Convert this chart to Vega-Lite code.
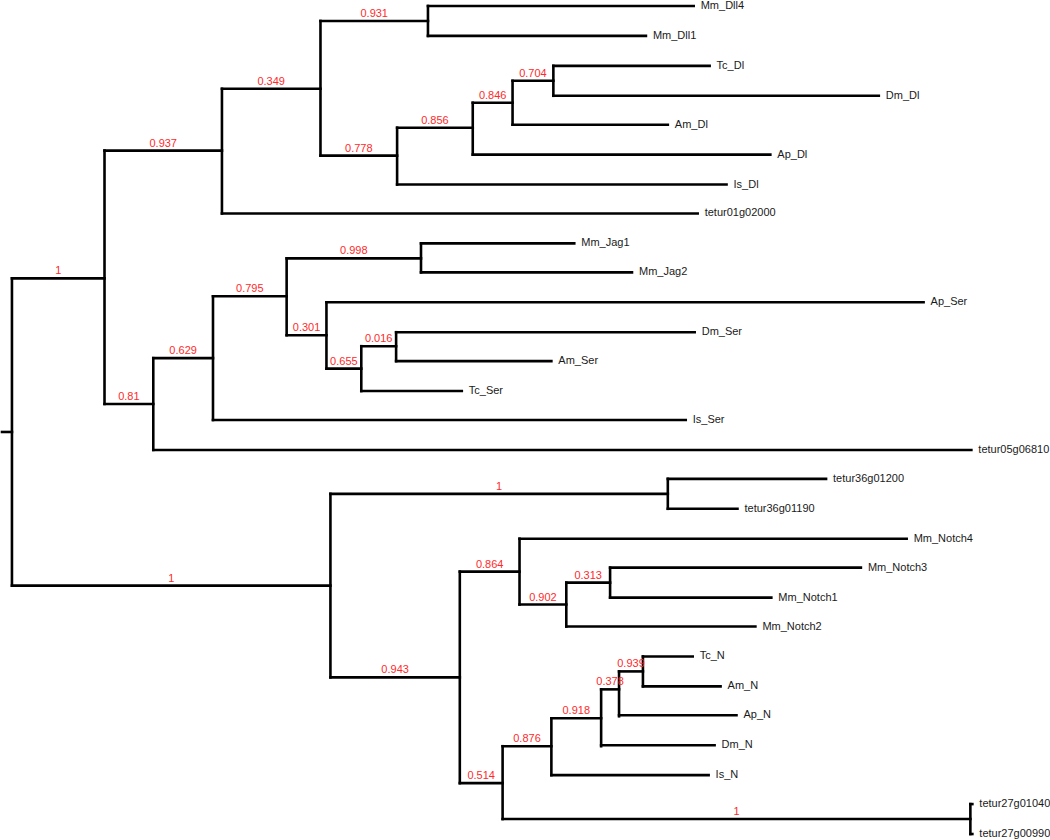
{
  "$schema": "https://vega.github.io/schema/vega-lite/v6.json",
  "width": 1050,
  "height": 840,
  "autosize": {"type": "fit", "contains": "padding"},
  "padding": 0,
  "background": "white",
  "config": {"view": {"stroke": null}, "axis": {"disable": true}},
  "data": {"values": [
    {"name": "root", "px": 0, "x": 10, "y": 431, "y1": 277, "y2": 585, "support": null, "leaf": false},
    {"name": "A", "px": 10, "x": 103, "y": 277, "y1": 149, "y2": 403, "support": "1", "leaf": false},
    {"name": "B", "px": 103, "x": 221, "y": 149, "y1": 87, "y2": 212, "support": "0.937", "leaf": false},
    {"name": "C", "px": 221, "x": 320, "y": 87, "y1": 19, "y2": 154, "support": "0.349", "leaf": false},
    {"name": "D", "px": 320, "x": 428, "y": 19, "y1": 4, "y2": 34, "support": "0.931", "leaf": false},
    {"name": "E", "px": 320, "x": 397, "y": 154, "y1": 126, "y2": 183, "support": "0.778", "leaf": false},
    {"name": "F", "px": 397, "x": 473, "y": 126, "y1": 101, "y2": 153, "support": "0.856", "leaf": false},
    {"name": "G", "px": 473, "x": 513, "y": 101, "y1": 79, "y2": 123, "support": "0.846", "leaf": false},
    {"name": "H", "px": 513, "x": 554, "y": 79, "y1": 64, "y2": 94, "support": "0.704", "leaf": false},
    {"name": "I", "px": 103, "x": 152, "y": 403, "y1": 357, "y2": 449, "support": "0.81", "leaf": false},
    {"name": "J", "px": 152, "x": 212, "y": 357, "y1": 295, "y2": 419, "support": "0.629", "leaf": false},
    {"name": "K", "px": 212, "x": 286, "y": 295, "y1": 257, "y2": 334, "support": "0.795", "leaf": false},
    {"name": "L", "px": 286, "x": 421, "y": 257, "y1": 242, "y2": 271, "support": "0.998", "leaf": false},
    {"name": "M", "px": 286, "x": 326, "y": 334, "y1": 301, "y2": 367.5, "support": "0.301", "leaf": false},
    {"name": "N", "px": 326, "x": 361, "y": 367.5, "y1": 345, "y2": 390, "support": "0.655", "leaf": false},
    {"name": "O", "px": 361, "x": 396, "y": 345, "y1": 331, "y2": 360, "support": "0.016", "leaf": false},
    {"name": "P", "px": 10, "x": 330, "y": 585, "y1": 493, "y2": 677, "support": "1", "leaf": false},
    {"name": "Q", "px": 330, "x": 669, "y": 493, "y1": 478, "y2": 508, "support": "1", "leaf": false},
    {"name": "R", "px": 330, "x": 460, "y": 677, "y1": 571, "y2": 783, "support": "0.943", "leaf": false},
    {"name": "S", "px": 460, "x": 520, "y": 571, "y1": 538, "y2": 604, "support": "0.864", "leaf": false},
    {"name": "U", "px": 520, "x": 567, "y": 604, "y1": 582, "y2": 626, "support": "0.902", "leaf": false},
    {"name": "V", "px": 567, "x": 611, "y": 582, "y1": 567, "y2": 597, "support": "0.313", "leaf": false},
    {"name": "T", "px": 460, "x": 503, "y": 783, "y1": 746, "y2": 819, "support": "0.514", "leaf": false},
    {"name": "W", "px": 503, "x": 552, "y": 746, "y1": 718, "y2": 775, "support": "0.876", "leaf": false},
    {"name": "Y", "px": 552, "x": 602, "y": 718, "y1": 689, "y2": 746, "support": "0.918", "leaf": false},
    {"name": "Z", "px": 602, "x": 620, "y": 689, "y1": 671, "y2": 716, "support": "0.378", "leaf": false},
    {"name": "AA", "px": 620, "x": 644, "y": 671, "y1": 656, "y2": 686, "support": "0.939", "leaf": false},
    {"name": "X", "px": 503, "x": 973, "y": 819, "y1": 804, "y2": 834, "support": "1", "leaf": false},
    {"name": "Mm_Dll4", "px": 428, "x": 695, "y": 4, "leaf": true},
    {"name": "Mm_Dll1", "px": 428, "x": 647, "y": 34, "leaf": true},
    {"name": "Tc_Dl", "px": 554, "x": 711, "y": 64, "leaf": true},
    {"name": "Dm_Dl", "px": 554, "x": 881, "y": 94, "leaf": true},
    {"name": "Am_Dl", "px": 513, "x": 669, "y": 123, "leaf": true},
    {"name": "Ap_Dl", "px": 473, "x": 772, "y": 153, "leaf": true},
    {"name": "Is_Dl", "px": 397, "x": 728, "y": 183, "leaf": true},
    {"name": "tetur01g02000", "px": 221, "x": 699, "y": 212, "leaf": true},
    {"name": "Mm_Jag1", "px": 421, "x": 575, "y": 242, "leaf": true},
    {"name": "Mm_Jag2", "px": 421, "x": 633, "y": 271, "leaf": true},
    {"name": "Ap_Ser", "px": 326, "x": 926, "y": 301, "leaf": true},
    {"name": "Dm_Ser", "px": 396, "x": 696, "y": 331, "leaf": true},
    {"name": "Am_Ser", "px": 396, "x": 552, "y": 360, "leaf": true},
    {"name": "Tc_Ser", "px": 361, "x": 462, "y": 390, "leaf": true},
    {"name": "Is_Ser", "px": 212, "x": 687, "y": 419, "leaf": true},
    {"name": "tetur05g06810", "px": 152, "x": 974, "y": 449, "leaf": true},
    {"name": "tetur36g01200", "px": 669, "x": 828, "y": 478, "leaf": true},
    {"name": "tetur36g01190", "px": 669, "x": 739, "y": 508, "leaf": true},
    {"name": "Mm_Notch4", "px": 520, "x": 909, "y": 538, "leaf": true},
    {"name": "Mm_Notch3", "px": 611, "x": 863, "y": 567, "leaf": true},
    {"name": "Mm_Notch1", "px": 611, "x": 773, "y": 597, "leaf": true},
    {"name": "Mm_Notch2", "px": 567, "x": 757, "y": 626, "leaf": true},
    {"name": "Tc_N", "px": 644, "x": 694, "y": 656, "leaf": true},
    {"name": "Am_N", "px": 644, "x": 722, "y": 686, "leaf": true},
    {"name": "Ap_N", "px": 620, "x": 738, "y": 715, "leaf": true},
    {"name": "Dm_N", "px": 602, "x": 716, "y": 745, "leaf": true},
    {"name": "Is_N", "px": 552, "x": 710, "y": 775, "leaf": true},
    {"name": "tetur27g01040", "px": 973, "x": 975, "y": 804, "leaf": true},
    {"name": "tetur27g00990", "px": 973, "x": 975, "y": 834, "leaf": true}
  ]},
  "layer": [
    {
      "mark": {"type": "rule", "stroke": "#000000", "strokeWidth": 2.6, "strokeCap": "square"},
      "encoding": {
        "x": {"field": "px", "type": "quantitative", "scale": {"domain": [0, 1050], "nice": false, "zero": false}},
        "x2": {"field": "x"},
        "y": {"field": "y", "type": "quantitative", "scale": {"domain": [0, 840], "nice": false, "zero": false, "reverse": true}}
      }
    },
    {
      "transform": [{"filter": "!datum.leaf"}],
      "mark": {"type": "rule", "stroke": "#000000", "strokeWidth": 2.6, "strokeCap": "square"},
      "encoding": {
        "x": {"field": "x", "type": "quantitative", "scale": {"domain": [0, 1050], "nice": false, "zero": false}},
        "y": {"field": "y1", "type": "quantitative", "scale": {"domain": [0, 840], "nice": false, "zero": false, "reverse": true}},
        "y2": {"field": "y2"}
      }
    },
    {
      "transform": [
        {"filter": "datum.support != null"},
        {"calculate": "(datum.px + datum.x) / 2", "as": "xm"}
      ],
      "mark": {"type": "text", "color": "#ff2a2a", "font": "Liberation Sans", "fontSize": 11, "align": "center", "baseline": "alphabetic", "dy": -4},
      "encoding": {
        "x": {"field": "xm", "type": "quantitative", "scale": {"domain": [0, 1050], "nice": false, "zero": false}},
        "y": {"field": "y", "type": "quantitative", "scale": {"domain": [0, 840], "nice": false, "zero": false, "reverse": true}},
        "text": {"field": "support"}
      }
    },
    {
      "transform": [{"filter": "datum.leaf"}],
      "mark": {"type": "text", "color": "#1a1a1a", "font": "Liberation Sans", "fontSize": 11, "align": "left", "baseline": "middle", "dx": 7},
      "encoding": {
        "x": {"field": "x", "type": "quantitative", "scale": {"domain": [0, 1050], "nice": false, "zero": false}},
        "y": {"field": "y", "type": "quantitative", "scale": {"domain": [0, 840], "nice": false, "zero": false, "reverse": true}},
        "text": {"field": "name"}
      }
    }
  ]
}
